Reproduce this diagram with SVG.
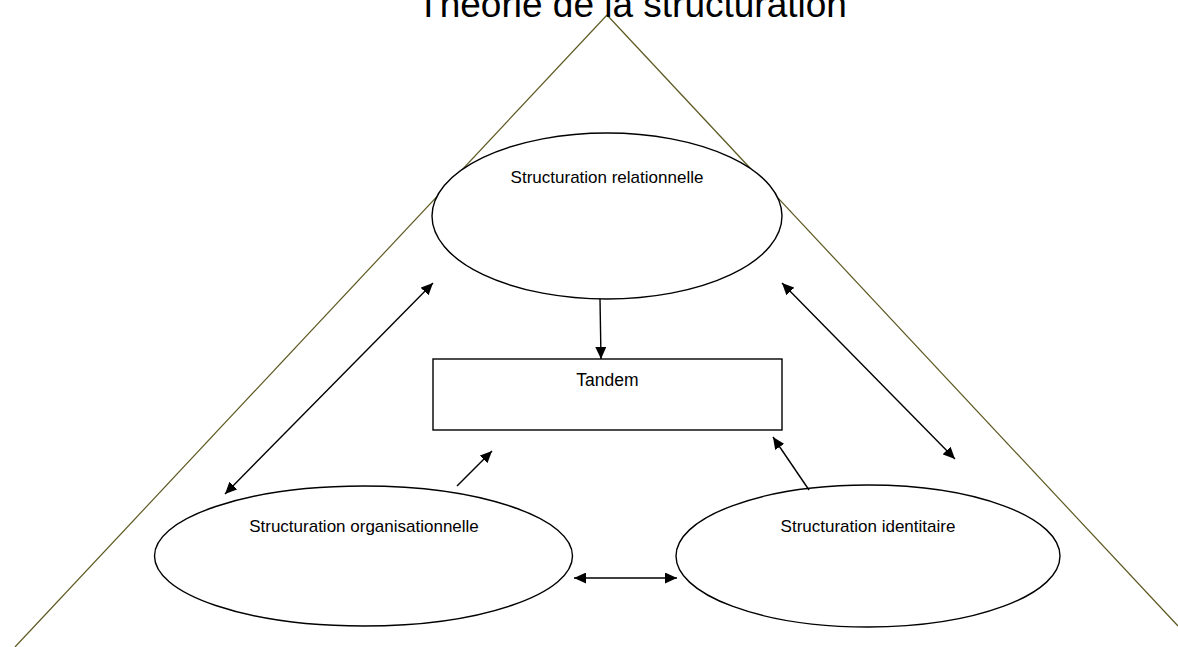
<svg xmlns="http://www.w3.org/2000/svg" width="1178" height="647" viewBox="0 0 1178 647">
<style>
.tri{fill:none;stroke:#5c5820;stroke-width:1.2}
.node{fill:#fff;stroke:#000;stroke-width:1.4}
.lbl{font-family:"Liberation Sans",Arial,sans-serif;font-size:17px;fill:#000;text-anchor:middle}
.conn line{stroke:#000;stroke-width:1.4}
</style>
<defs>
<marker id="ah" markerUnits="userSpaceOnUse" markerWidth="13" markerHeight="11" refX="12" refY="5.5" orient="auto-start-reverse" viewBox="0 0 13 11">
<path d="M0,0 L12,5.5 L0,11 z" fill="#000"/>
</marker>
</defs>
<rect width="1178" height="647" fill="#fff"/>
<g id="triangle">
<line class="tri" x1="607" y1="15" x2="15" y2="647"/>
<line class="tri" x1="607" y1="15" x2="1178" y2="626"/>
</g>
<text id="title" x="632" y="16.5" style="font-family:'Liberation Sans',Arial,sans-serif;font-size:37px;fill:#000;text-anchor:middle">Théorie de la structuration</text>
<g id="relationnelle">
<ellipse class="node" cx="607" cy="216" rx="175" ry="83"/>
<text class="lbl" x="607" y="183">Structuration relationnelle</text>
</g>
<g id="tandem">
<rect class="node" x="433" y="359" width="349" height="71"/>
<text class="lbl" x="607.5" y="386" style="font-size:17.5px">Tandem</text>
</g>
<g id="organisationnelle">
<ellipse class="node" cx="363.5" cy="556" rx="209" ry="70"/>
<text class="lbl" x="364" y="532">Structuration organisationnelle</text>
</g>
<g id="identitaire">
<ellipse class="node" cx="868" cy="556" rx="192" ry="71"/>
<text class="lbl" x="868" y="532">Structuration identitaire</text>
</g>
<g id="connectors" class="conn">
<line x1="600" y1="299" x2="601" y2="359" marker-end="url(#ah)"/>
<line x1="433" y1="283" x2="225" y2="494" marker-start="url(#ah)" marker-end="url(#ah)"/>
<line x1="782" y1="283" x2="955" y2="459" marker-start="url(#ah)" marker-end="url(#ah)"/>
<line x1="457" y1="486" x2="492" y2="451" marker-end="url(#ah)"/>
<line x1="809" y1="490" x2="773" y2="437" marker-end="url(#ah)"/>
<line x1="574" y1="578" x2="677" y2="578" marker-start="url(#ah)" marker-end="url(#ah)"/>
</g>
</svg>
